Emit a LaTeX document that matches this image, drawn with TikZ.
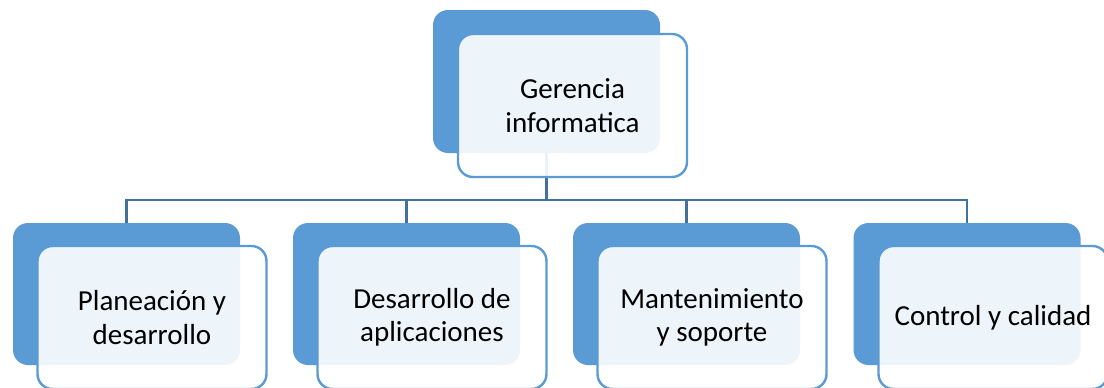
\documentclass[tikz,border=0pt]{standalone}
\usepackage{fontspec}
\setmainfont{Carlito}
\definecolor{accblue}{HTML}{5B9BD5}
\definecolor{connblue}{HTML}{41719C}
\tikzset{
  backbox/.style={fill=accblue, draw=none, rounded corners=15pt, minimum width=227pt, minimum height=142pt, inner sep=0pt},
  frontbox/.style={fill=white, fill opacity=0.9, text opacity=1, draw=accblue, line width=2.4pt, rounded corners=15pt, minimum width=229pt, minimum height=143pt, inner sep=0pt, align=center, font=\fontsize{29}{33.5}\selectfont, text=black},
  conn/.style={draw=connblue, line width=2.4pt}
}
\begin{document}
\begin{tikzpicture}[x=1pt,y=-1pt]
\useasboundingbox (0,0) rectangle (1104,388);
\clip (0,0) rectangle (1104,388);
% back boxes
\node[backbox, minimum height=143pt] (g) at (546.5,81.5) {};
\node[backbox] (c1) at (126.5,294) {};
\node[backbox] (c2) at (406.5,294) {};
\node[backbox] (c3) at (686.5,294) {};
\node[backbox] (c4) at (967,294) {};
% connectors
\coordinate (bus) at (546.5,200);
\draw[conn] (g.south) -- (bus);
\draw[conn] (bus) -| (c1.north);
\draw[conn] (bus) -| (c2.north);
\draw[conn] (bus) -| (c3.north);
\draw[conn] (bus) -| (c4.north);
% front boxes
\node[frontbox] (gf) at (572.5,105.5) {Gerencia\\informatica};
\node[frontbox] (f1) at (152,317.5) {Planeación y\\desarrollo};
\node[frontbox] (f2) at (432,317.5) {Desarrollo de\\aplicaciones};
\node[frontbox] (f3) at (712,317.5) {Mantenimiento\\y soporte};
\node[frontbox] (f4) at (993,317.5) {Control y calidad};
\end{tikzpicture}
\end{document}
